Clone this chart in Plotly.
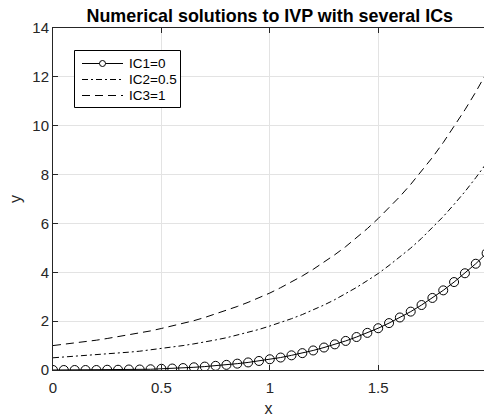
import plotly.graph_objects as go

# Data
x_vals = [0.00, 0.05, 0.10, 0.15, 0.20, 0.25, 0.30, 0.35, 0.40, 0.45,
          0.50, 0.55, 0.60, 0.65, 0.70, 0.75, 0.80, 0.85, 0.90, 0.95,
          1.00, 1.05, 1.10, 1.15, 1.20, 1.25, 1.30, 1.35, 1.40, 1.45,
          1.50, 1.55, 1.60, 1.65, 1.70, 1.75, 1.80, 1.85, 1.90, 1.95, 2.00]

ic1_vals = [0.00, 0.00, 0.00, 0.00, 0.00, 0.01, 0.01, 0.02, 0.02, 0.03,
            0.05, 0.06, 0.08, 0.11, 0.14, 0.17, 0.21, 0.26, 0.31, 0.37,
            0.44, 0.51, 0.60, 0.69, 0.80, 0.92, 1.05, 1.19, 1.35, 1.52,
            1.71, 1.92, 2.15, 2.39, 2.66, 2.95, 3.26, 3.60, 3.96, 4.35, 4.78]

ic2_vals = [0.50, 0.53, 0.55, 0.58, 0.61, 0.65, 0.68, 0.73, 0.77, 0.82,
            0.87, 0.93, 1.00, 1.07, 1.14, 1.23, 1.32, 1.43, 1.54, 1.66,
            1.80, 1.94, 2.10, 2.27, 2.46, 2.66, 2.88, 3.12, 3.38, 3.66,
            3.95, 4.28, 4.62, 4.99, 5.39, 5.82, 6.28, 6.78, 7.30, 7.87, 8.47]

ic3_vals = [1.00, 1.05, 1.11, 1.16, 1.22, 1.29, 1.36, 1.43, 1.52, 1.60,
            1.70, 1.80, 1.91, 2.02, 2.15, 2.29, 2.44, 2.60, 2.77, 2.95,
            3.15, 3.37, 3.60, 3.85, 4.12, 4.41, 4.72, 5.05, 5.41, 5.79,
            6.20, 6.63, 7.10, 7.60, 8.13, 8.70, 9.31, 9.96, 10.65, 11.38, 12.17]

series_names = ["IC1=0", "IC2=0.5", "IC3=1"]
x_ticks = [0, 0.5, 1, 1.5]
x_tick_text = ["0", "0.5", "1", "1.5"]
y_ticks = [0, 2, 4, 6, 8, 10, 12, 14]

X_MAX_VISIBLE = 1.988  # the axes box continues to x=2 just past the window edge

FONT = "Liberation Sans, Arial, Helvetica, sans-serif"
AX = "#262626"
GRID = "#e3e3e3"
DASHES = ["solid", "6px,3px,2px,3px", "8px,5px"]

W, H = 484, 417
ML, MR, MT, MB = 53, 0, 28, 47
PW, PH = W - ML - MR, H - MT - MB


def px(xp):
    return (xp - ML) / PW


def py(yp):
    return (H - MB - yp) / PH


fig = go.Figure()
fig.add_trace(go.Scatter(
    x=x_vals, y=ic1_vals, name=series_names[0], mode="lines+markers",
    line=dict(color="black", width=1, dash=DASHES[0]),
    marker=dict(symbol="circle-open", size=9, color="black", line=dict(width=1))))
fig.add_trace(go.Scatter(
    x=x_vals, y=ic2_vals, name=series_names[1], mode="lines",
    line=dict(color="black", width=1, dash=DASHES[1])))
fig.add_trace(go.Scatter(
    x=x_vals, y=ic3_vals, name=series_names[2], mode="lines",
    line=dict(color="black", width=1, dash=DASHES[2])))

fig.update_layout(
    width=W, height=H,
    margin=dict(l=ML, r=MR, t=MT, b=MB),
    paper_bgcolor="white", plot_bgcolor="white",
    font=dict(family=FONT, color=AX),
    showlegend=False,
    title=dict(text="<b>Numerical solutions to IVP with several ICs</b>",
               font=dict(size=17.9, color="black", family=FONT),
               xref="paper", x=1.0 / X_MAX_VISIBLE, xanchor="center",
               yref="container", y=1 - 16 / H, yanchor="middle"),
    xaxis=dict(range=[0, X_MAX_VISIBLE], tickvals=x_ticks, ticktext=x_tick_text,
               showgrid=True, gridcolor=GRID, gridwidth=1,
               showline=True, linecolor=AX, linewidth=1, mirror="ticks",
               ticks="inside", ticklen=5, tickcolor=AX, zeroline=False,
               tickfont=dict(size=15, color=AX), ticklabelstandoff=4,
               title=dict(text="x", font=dict(size=16, color=AX), standoff=8)),
    yaxis=dict(range=[0, 14], tickvals=y_ticks,
               showgrid=True, gridcolor=GRID, gridwidth=1,
               showline=True, linecolor=AX, linewidth=1,
               ticks="inside", ticklen=5, tickcolor=AX, zeroline=False,
               tickfont=dict(size=15, color=AX),
               title=dict(text="y", font=dict(size=16, color=AX), standoff=6)),
    yaxis2=dict(range=[0, 14], tickvals=y_ticks, overlaying="y", side="right",
                anchor="x", showgrid=False, showline=False, zeroline=False,
                ticks="inside", ticklen=3, tickcolor=AX, showticklabels=False),
)

# Tick label "2" sits at the cropped right edge of the axes box (only its left edge shows)
fig.add_annotation(x=2 / X_MAX_VISIBLE, y=0, xref="paper", yref="paper", text="2",
                   showarrow=False, xanchor="left", xshift=-4.5,
                   yanchor="middle", yshift=-17,
                   font=dict(size=15, color=AX, family=FONT))

# MATLAB-style legend box (drawn in pixel layout of the axes)
LEG_L, LEG_R, LEG_T, LEG_B = 74.5, 180.5, 50.5, 107.5
fig.add_shape(type="rect", xref="paper", yref="paper",
              x0=px(LEG_L), x1=px(LEG_R), y0=py(LEG_B), y1=py(LEG_T),
              line=dict(color="black", width=1), fillcolor="white", layer="above")
row_y = [63.5, 79.5, 95.5]
for i, name in enumerate(series_names):
    yy = py(row_y[i])
    fig.add_shape(type="line", xref="paper", yref="paper",
                  x0=px(82), x1=px(123), y0=yy, y1=yy, layer="above",
                  line=dict(color="black", width=1, dash=DASHES[i]))
    if i == 0:
        fig.add_shape(type="circle", xref="paper", yref="paper",
                      x0=px(99.5), x1=px(105.5), y0=py(row_y[i] + 3), y1=py(row_y[i] - 3),
                      line=dict(color="black", width=1), fillcolor="white", layer="above")
    fig.add_annotation(x=px(127), y=yy, xref="paper", yref="paper", text=name,
                       showarrow=False, xanchor="left", yanchor="middle",
                       font=dict(size=13.5, color="black", family=FONT))

fig.write_html("out.html")
